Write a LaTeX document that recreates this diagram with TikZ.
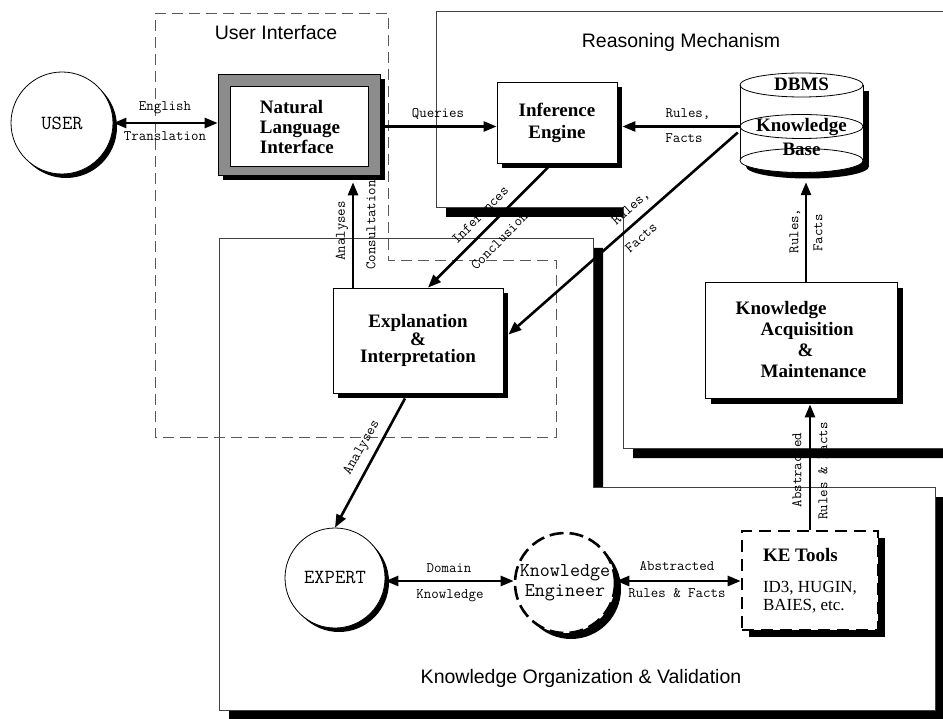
\documentclass[tikz,border=0pt]{standalone}
\usepackage{fontspec}
\setmainfont{Liberation Serif}
\setsansfont{Liberation Sans}
\usetikzlibrary{shadows,arrows.meta,calc}
\begin{document}
\begin{tikzpicture}[x=1pt,y=-1pt,
  region/.style={draw=black!75, line width=0.7pt},
  uiregion/.style={draw=black!65, line width=0.7pt, dash pattern=on 11pt off 6pt},
  regtitle/.style={font=\sffamily\fontsize{19.5}{22}\selectfont, inner sep=0},
  lbl/.style={font=\ttfamily\fontsize{14.5}{16}\selectfont, inner sep=0},
  shad/.style={drop shadow={opacity=1,fill=black,shadow xshift=#1,shadow yshift=-#1}},
  sbox/.style={draw, line width=0.8pt, fill=white, inner sep=0, align=center},
  tipA/.tip={Triangle[length=13pt,width=10pt]},
  arr/.style={line width=2.6pt, -tipA},
  darr/.style={line width=2.6pt, tipA-tipA},
  kbtxt/.style={font=\bfseries\fontsize{19}{20}\selectfont, inner sep=0}
]
\useasboundingbox (0,0) rectangle (943,719);
\fill[white] (0,0) rectangle (943,719);

% regions
\draw[region, fill=white, shad=10pt] (436,11) -- (950,11) -- (950,448) -- (623,448) -- (623,207) -- (436,207) -- cycle;
\draw[region, fill=white, shad=10pt] (219,238) -- (593,238) -- (593,487) -- (935,487) -- (935,710) -- (219,710) -- cycle;
\draw[uiregion] (155,13) -- (388,13) -- (388,260) -- (556,260) -- (556,437) -- (155,437) -- cycle;

\node[regtitle] (tUI) at (276,33) {User Interface};
\node[regtitle] (tRM) at (681,42) {Reasoning Mechanism};
\node[regtitle] (tKOV) at (581,678) {Knowledge Organization \& Validation};

% USER
\node[circle, draw, line width=0.8pt, fill=white, minimum size=102pt, inner sep=0, shad=4pt,
      font=\ttfamily\fontsize{20}{22}\selectfont] (user) at (62,123) {USER};

% Natural Language Interface
\node[draw, line width=0.6pt, fill=black!45, minimum width=162pt, minimum height=101pt, inner sep=0, shad=5pt] (nli) at (299,124.5) {};
\node[draw, line width=0.6pt, fill=white, minimum width=138pt, minimum height=80pt, inner sep=0] (nliin) at (299,126) {};
\node[font=\bfseries\fontsize{19}{20}\selectfont, align=left, inner sep=0] (nlitxt) at (300,127) {Natural\\Language\\Interface};

% Inference Engine
\node[sbox, minimum width=120pt, minimum height=81pt, shad=5pt, font=\bfseries\fontsize{19}{22}\selectfont] (ie) at (557,122.5) {Inference\\Engine};

% Knowledge base cylinder
\node[minimum width=123pt, minimum height=99pt, inner sep=0] (kb) at (801.5,122.5) {};
\fill[black] (746,91) rectangle (869,166.5);
\fill[black] (807.5,166.5) ellipse [x radius=61.5, y radius=12];
\fill[white] (740,85) rectangle (863,160.5);
\fill[white] (801.5,85) ellipse [x radius=61.5, y radius=12];
\fill[white] (801.5,160.5) ellipse [x radius=61.5, y radius=12];
\draw[line width=0.8pt] (740,85) -- (740,160.5) (863,85) -- (863,160.5);
\draw[line width=0.8pt] (801.5,85) ellipse [x radius=61.5, y radius=12]
  (801.5,126.5) ellipse [x radius=61.5, y radius=12]
  (801.5,160.5) ellipse [x radius=61.5, y radius=12];
\node[kbtxt] (kbDB) at (801.5,84) {DBMS};
\node[kbtxt] (kbK) at (801.5,127) {Knowledge};
\node[kbtxt] (kbB) at (801.5,149) {Base};

% Explanation
\node[sbox, minimum width=170pt, minimum height=105pt, shad=5pt, font=\bfseries\fontsize{19}{17.5}\selectfont] (expl) at (418,340.5) {Explanation\\\&\\Interpretation};

% Knowledge Acquisition
\node[sbox, minimum width=192pt, minimum height=116pt, shad=6pt, align=left, font=\bfseries\fontsize{19}{21}\selectfont] (kam) at (801,340)
  {Knowledge\\\hspace*{25pt}Acquisition\\\hspace*{62pt}\&\\\hspace*{25pt}Maintenance};

% EXPERT
\node[circle, draw, line width=0.8pt, fill=white, minimum size=100pt, inner sep=0, shad=4pt,
      font=\ttfamily\fontsize{20}{22}\selectfont] (expert) at (335,578) {EXPERT};

% Knowledge Engineer
\node[circle, draw, line width=2.6pt, dash pattern=on 14pt off 6pt, fill=white, minimum size=100pt, inner sep=0, shad=6pt,
      align=center, font=\ttfamily\fontsize{19.5}{20}\selectfont] (keng) at (565,583) {Knowledge\\Engineer};

% KE Tools
\node[draw, line width=2.6pt, dash pattern=on 12pt off 7pt, fill=white, minimum width=136pt, minimum height=99pt, inner sep=0, shad=7pt,
      align=left, font=\fontsize{17}{18}\selectfont] (ket) at (810,580.5)
  {{\bfseries\fontsize{19}{21}\selectfont KE Tools}\\[13pt]ID3, HUGIN,\\BAIES, etc.};

% connectors
\draw[darr] (user.east) -- (user.east -| nli.west);
\node[lbl] (lEng) at (165,108) {English};
\node[lbl] (lTra) at (165,136) {Translation};

\draw[arr] ($(nli.east)+(5,2)$) -- ($(nli.east -| ie.west)+(0,2)$);
\node[lbl] (lQue) at (438,114) {Queries};

\draw[arr] ($(kb.west)+(0,4)$) -- ($(kb.west -| ie.east)+(5,4)$);
\node[lbl] (lRu1) at (688,114) {Rules,};
\node[lbl] (lFa1) at (684,138) {Facts};

\draw[arr] ($(ie.south)+(-9,4)$) -- ($(expl.north)+(10,0)$);
\node[lbl, rotate=45.7] (lInf) at (480,215) {Inferences};
\node[lbl, rotate=45.7] (lCon) at (502,238) {Conclusions};

\draw[arr] ($(kb.west)+(-2,10)$) -- ($(expl.east)+(5,-6)$);
\node[lbl, rotate=41.2] (lRu2) at (631,208) {Rules,};
\node[lbl, rotate=41.2] (lFa2) at (641,238) {Facts};

\draw[arr] ($(expl.north)+(-65,0)$) -- ($(expl.north |- nli.south)+(-65,7)$);
\node[lbl, rotate=90] (lAna1) at (342,231) {Analyses};
\node[lbl, rotate=90] (lCons) at (371,225) {Consultation};

\draw[arr] ($(expl.south)+(-13,5)$) -- (expert.north);
\node[lbl, rotate=60.4] (lAna2) at (362,448) {Analyses};

\draw[darr] ($(expert.east)+(0,3)$) -- ($(expert.east -| keng.west)+(0,3)$);
\node[lbl] (lDom) at (449,568) {Domain};
\node[lbl] (lKno) at (450,596) {Knowledge};

\draw[darr] ($(keng.east)+(0,-2)$) -- ($(keng.east -| ket.west)+(0,-2)$);
\node[lbl] (lAbs1) at (677,566) {Abstracted};
\node[lbl] (lRF1) at (677,593) {Rules \& Facts};

\draw[arr] (ket.north) -- ($(ket.north |- kam.south)+(0,6)$);
\node[lbl, rotate=90] (lAbs2) at (797,470) {Abstracted};
\node[lbl, rotate=90] (lRF2) at (823,471) {Rules \& Facts};

\draw[arr] ($(kam.north)+(5,0)$) -- ($(kam.north |- kb.south)+(5,10)$);
\node[lbl, rotate=90] (lRu3) at (795,231) {Rules,};
\node[lbl, rotate=90] (lFa3) at (818,233) {Facts};
\end{tikzpicture}
\end{document}
